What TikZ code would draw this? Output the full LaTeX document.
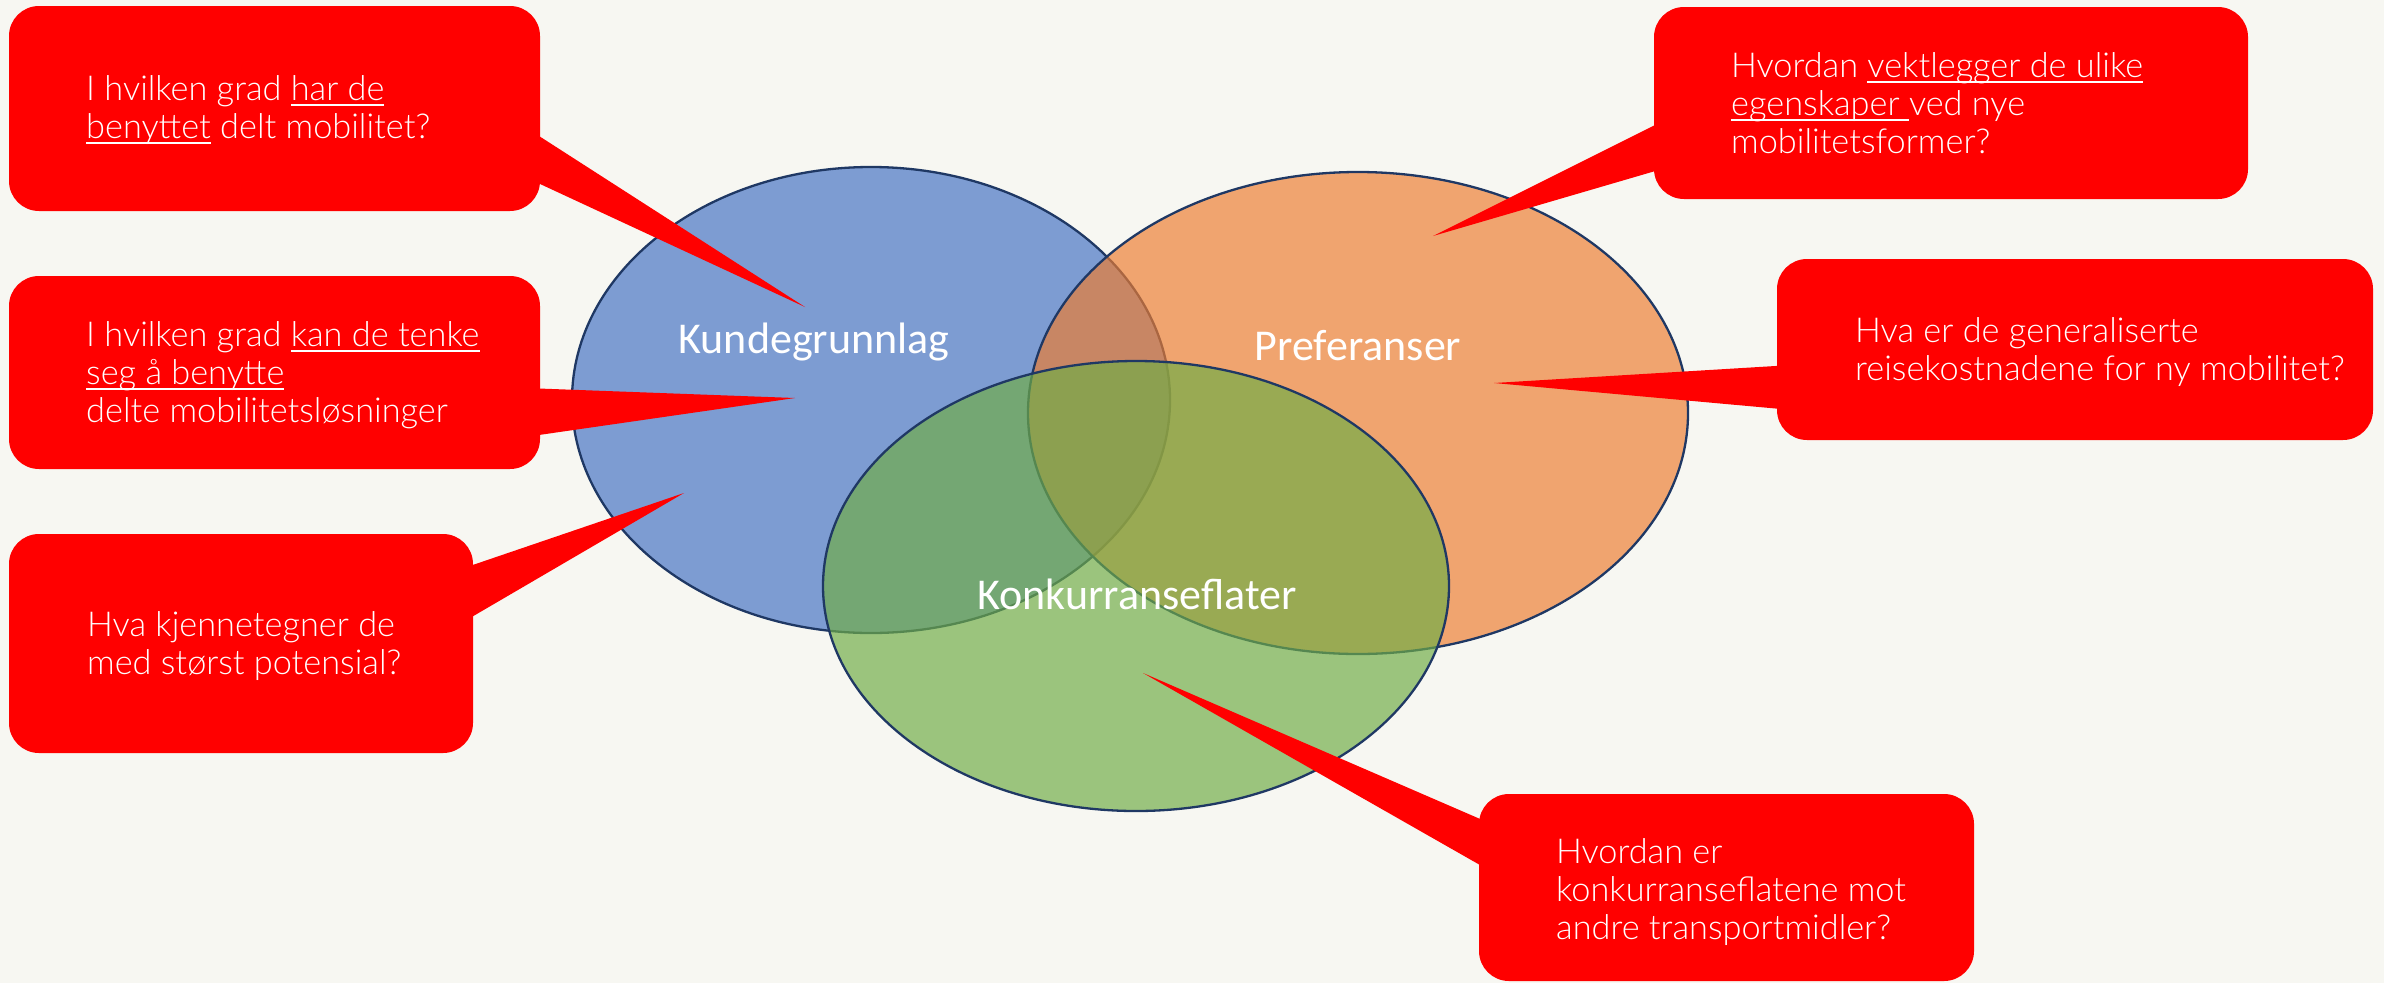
\documentclass[tikz,border=0pt]{standalone}
\usepackage{fontspec}
\setmainfont{Lato Light}
\newfontfamily\calfont{Carlito}
\newcommand\ulx[1]{\leavevmode\setbox0=\hbox{#1}\rlap{\rule[-6pt]{\wd0}{2pt}}\box0\relax}
\usetikzlibrary{shapes.geometric}
\definecolor{bg}{HTML}{F7F7F2}
\definecolor{cblue}{HTML}{4472C4}
\definecolor{corange}{HTML}{ED7D31}
\definecolor{cgreen}{HTML}{70AD47}
\definecolor{outl}{HTML}{1F3864}
\definecolor{callred}{HTML}{FF0000}
\tikzset{
  venn/.style={ellipse, draw=outl, line width=2.3pt, fill opacity=0.68, inner sep=0pt},
  vlabel/.style={text=white, font=\calfont\fontsize{44}{50}\selectfont, anchor=base, inner sep=0pt},
  cbox/.style={rectangle, rounded corners=30pt, fill=callred, inner sep=0pt},
  ctext/.style={text=white, font=\fontsize{34.3}{38}\selectfont, anchor=base west, inner sep=0pt},
  ptr/.style={fill=callred}
}
\begin{document}
\begin{tikzpicture}[x=1pt,y=-1pt]
\useasboundingbox (0,0) rectangle (2384,983);
\fill[bg] (0,0) rectangle (2384,983);

% Venn ellipses
\node[venn, fill=cblue, minimum width=598pt, minimum height=466pt] (blue) at (871,400) {};
\node[venn, fill=corange, minimum width=660pt, minimum height=482pt] (orange) at (1358,413) {};
\node[venn, fill=cgreen, minimum width=626pt, minimum height=450pt] (green) at (1136,586) {};

\node[vlabel] (l1) at (814,353) {Kundegrunnlag};
\node[vlabel] (l2) at (1358,360) {Preferanser};
\node[vlabel] (l3) at (1137,609) {Konkurranseflater};

% Callout 1
\node[cbox, minimum width=531pt, minimum height=205pt] (c1) at (274.5,108.5) {};
\coordinate (p1) at (805,307);
\fill[ptr] (525,127) -- (p1) -- (525,177) -- cycle;
\node[ctext] (t1) at (86,100) {\vtop{\hbox{I hvilken grad \ulx{har de}}\hbox{\ulx{benyttet} delt mobilitet?}}};

% Callout 2
\node[cbox, minimum width=531pt, minimum height=193pt] (c2) at (274.5,372.5) {};
\coordinate (p2) at (795,398);
\fill[ptr] (525,388) -- (p2) -- (525,437) -- cycle;
\node[ctext] (t2) at (86,346) {\vtop{\hbox{I hvilken grad \ulx{kan de tenke}}\hbox{\ulx{seg å benytte}}\hbox{delte mobilitetsløsninger}}};

% Callout 3
\node[cbox, minimum width=464pt, minimum height=219pt] (c3) at (241,643.5) {};
\coordinate (p3) at (684,493);
\fill[ptr] (458,570) -- (p3) -- (458,625) -- cycle;
\node[ctext] (t3) at (87,636) {\vtop{\hbox{Hva kjennetegner de}\hbox{med størst potensial?}}};

% Callout 4
\node[cbox, minimum width=594pt, minimum height=192pt] (c4) at (1951,103) {};
\coordinate (p4) at (1433,236);
\fill[ptr] (1669,118) -- (p4) -- (1669,167) -- cycle;
\node[ctext] (t4) at (1731,77) {\vtop{\hbox{Hvordan \ulx{vektlegger de ulike}}\hbox{\ulx{egenskaper }ved nye}\hbox{mobilitetsformer?}}};

% Callout 5
\node[cbox, minimum width=596pt, minimum height=181pt] (c5) at (2075,349.5) {};
\coordinate (p5) at (1494,383);
\fill[ptr] (1792,365) -- (p5) -- (1792,410) -- cycle;
\node[ctext] (t5) at (1855,342) {\vtop{\hbox{Hva er de generaliserte}\hbox{reisekostnadene for ny mobilitet?}}};

% Callout 6
\node[cbox, minimum width=495pt, minimum height=187pt] (c6) at (1726.5,887.5) {};
\coordinate (p6) at (1143,673);
\fill[ptr] (1494,825) -- (p6) -- (1494,873) -- cycle;
\node[ctext] (t6) at (1556,863) {\vtop{\hbox{Hvordan er}\hbox{konkurranseflatene mot}\hbox{andre transportmidler?}}};
\end{tikzpicture}
\end{document}
